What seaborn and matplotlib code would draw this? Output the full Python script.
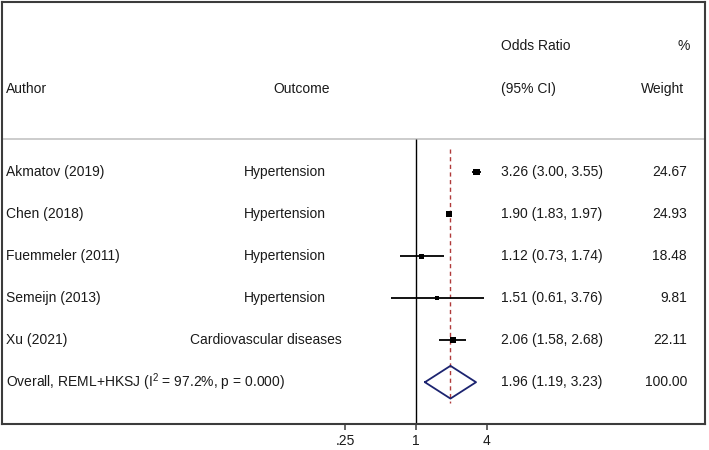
import numpy as np
import pandas as pd
import matplotlib.pyplot as plt
import matplotlib.transforms as mtransforms
from matplotlib.ticker import NullLocator
import seaborn as sns

# Study data
authors = ["Akmatov (2019)", "Chen (2018)", "Fuemmeler (2011)", "Semeijn (2013)", "Xu (2021)"]
outcomes = ["Hypertension", "Hypertension", "Hypertension", "Hypertension", "Cardiovascular diseases"]
odds = [3.26, 1.90, 1.12, 1.51, 2.06]
ci_low = [3.00, 1.83, 0.73, 0.61, 1.58]
ci_high = [3.55, 1.97, 1.74, 3.76, 2.68]
weights = [24.67, 24.93, 18.48, 9.81, 22.11]

# Pooled estimate
overall_label = "Overall, REML+HKSJ (I$\\mathregular{^2}$ = 97.2%, p = 0.000)"
overall_or = 1.96
overall_lo = 1.19
overall_hi = 3.23
overall_weight = 100.00

xticks = [0.25, 1, 4]
xtick_labels = [".25", "1", "4"]

df = pd.DataFrame({
    "author": authors,
    "outcome": outcomes,
    "or": odds,
    "lo": ci_low,
    "hi": ci_high,
    "weight": weights,
    "row": np.arange(len(authors)),
})
overall_row = len(authors)

# Layout (pixels of the 709x450 canvas)
outcome_px = [244, 244, 244, 244, 190]
px_per_ln = 51.2
px_null = 416

sns.set_style("white")
plt.rcParams["font.family"] = ["Liberation Sans", "DejaVu Sans"]
plt.rcParams["mathtext.fontset"] = "custom"
plt.rcParams["mathtext.rm"] = "Liberation Sans"

text_color = "#1a1a1a"
frame_color = "#3c3c3c"

fig = plt.figure(figsize=(7.09, 4.5), dpi=100)
ax = fig.add_axes([2 / 709, 26 / 450, 703 / 709, 422 / 450])
ax.set_xscale("log")

# confidence intervals and study boxes
ax.hlines(df["row"], df["lo"], df["hi"], color="black", lw=1.3, zorder=3)
sns.scatterplot(data=df, x="or", y="row", size="weight",
                sizes=(0.8 * min(weights), 0.8 * max(weights)),
                marker="s", color="black", linewidth=0, legend=False,
                ax=ax, zorder=4)

# header separator, null line, overall line
sep_y = -0.78
ax.axhline(sep_y, color="#c8c8c8", lw=1.3)
ax.vlines(1, sep_y, 6.0, color="black", lw=1.0)
ax.vlines(overall_or, -0.545, 5.5, color="#b03a3a", lw=1.0,
          linestyles=(0, (3, 2.5)), zorder=2)

# pooled diamond
h = 0.39
ax.plot([overall_lo, overall_or, overall_hi, overall_or, overall_lo],
        [overall_row, overall_row - h, overall_row, overall_row + h, overall_row],
        color="#1c2470", lw=1.3, zorder=3)

ax.set_xlim(np.exp((2 - px_null) / px_per_ln), np.exp((705 - px_null) / px_per_ln))
ax.set_ylim(5.995, -4.052)
ax.set_xlabel("")
ax.set_ylabel("")
ax.set_yticks([])
ax.set_xticks(xticks, xtick_labels)
ax.xaxis.set_minor_locator(NullLocator())
ax.tick_params(axis="x", bottom=True, direction="out", length=4.5, width=1.1,
               color=frame_color, labelsize=10, labelcolor=text_color, pad=3)
for s in ax.spines.values():
    s.set_visible(True)
    s.set_color(frame_color)
    s.set_linewidth(1.5)

# text columns
tr = mtransforms.blended_transform_factory(fig.transFigure, ax.transData)
fs = 10
def put(px, y, s, ha="left"):
    ax.text(px / 709, y, s, transform=tr, ha=ha, va="center", fontsize=fs, color=text_color)

put(501, -3.01, "Odds Ratio")
put(690, -3.01, "%", ha="right")
put(6, -1.99, "Author")
put(273, -1.99, "Outcome")
put(501, -1.99, "(95% CI)")
put(684, -1.99, "Weight", ha="right")

for i, r in df.iterrows():
    put(6, r["row"], r["author"])
    put(outcome_px[i], r["row"], r["outcome"])
    put(501, r["row"], f"{r['or']:.2f} ({r['lo']:.2f}, {r['hi']:.2f})")
    put(687, r["row"], f"{r['weight']:.2f}", ha="right")

put(6, overall_row, overall_label)
put(501, overall_row, f"{overall_or:.2f} ({overall_lo:.2f}, {overall_hi:.2f})")
put(687, overall_row, f"{overall_weight:.2f}", ha="right")

fig.savefig("out.png", dpi=100)
